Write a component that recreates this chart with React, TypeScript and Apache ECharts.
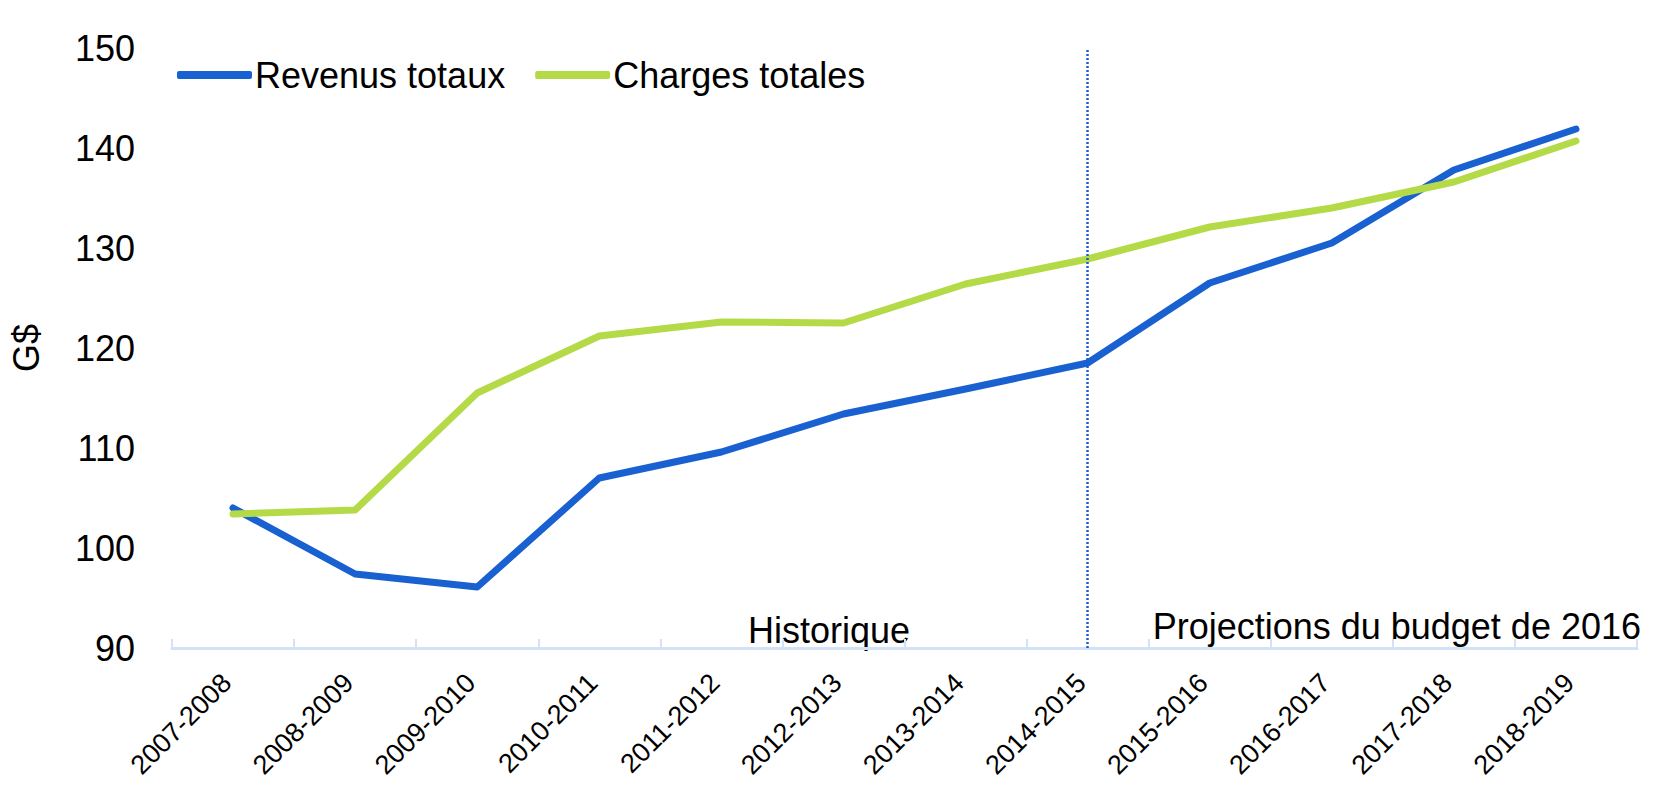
import React, { useEffect, useRef } from "react";
import * as echarts from "echarts";

const categories = [
  "2007-2008", "2008-2009", "2009-2010", "2010-2011", "2011-2012", "2012-2013",
  "2013-2014", "2014-2015", "2015-2016", "2016-2017", "2017-2018", "2018-2019",
];
const revenus = [104.0, 97.4, 96.1, 107.0, 109.6, 113.4, 115.9, 118.5, 126.5, 130.5, 137.8, 141.9];
const charges = [103.4, 103.8, 115.5, 121.2, 122.6, 122.5, 126.4, 128.9, 132.1, 134.0, 136.6, 140.7];
const seriesNames = ["Revenus totaux", "Charges totales"];
const dividerCategory = "2014-2015";
const periodLabels = ["Historique", "Projections du budget de 2016"];

const BLUE = "#1961d0";
const GREEN = "#b5da48";
const AXIS = "#d3e2f7";
const FONT = "'Liberation Sans', Arial, Helvetica, sans-serif";

export default function App() {
  const ref = useRef<HTMLDivElement>(null);
  useEffect(() => {
    document.body.style.margin = "0";
    const chart = echarts.init(ref.current!, null, { renderer: "svg" });
    chart.setOption({
      animation: false,
      textStyle: { fontFamily: FONT },
      grid: { left: 167, right: 24, top: 48, bottom: 140, containLabel: false },
      legend: {
        left: 172,
        top: 52,
        itemWidth: 75,
        itemHeight: 8,
        itemGap: 30,
        icon: "roundRect",
        textStyle: { fontSize: 36, color: "#000", fontFamily: FONT, padding: [0, 0, 0, -2] },
        data: seriesNames,
      },
      xAxis: {
        type: "category",
        data: categories,
        boundaryGap: true,
        axisLine: { lineStyle: { color: AXIS, width: 3 } },
        axisTick: { show: true, inside: true, length: 9, lineStyle: { color: AXIS, width: 2 } },
        axisLabel: {
          rotate: 45,
          fontSize: 27,
          color: "#000",
          margin: 24,
          interval: 0,
          padding: [0, 9, 0, 0],
          fontFamily: FONT,
        },
        splitLine: { show: false },
      },
      yAxis: {
        type: "value",
        min: 90,
        max: 150,
        interval: 10,
        name: "G$",
        nameLocation: "middle",
        nameGap: 128,
        nameTextStyle: { fontSize: 36, color: "#000", fontFamily: FONT },
        axisLine: { show: false },
        axisTick: { show: false },
        splitLine: { show: false },
        axisLabel: { fontSize: 36, color: "#000", margin: 37, fontFamily: FONT },
      },
      series: [
        {
          name: seriesNames[0],
          type: "line",
          data: revenus,
          symbol: "none",
          color: BLUE,
          lineStyle: { color: BLUE, width: 7, cap: "round", join: "round" },
          markLine: {
            silent: true,
            symbol: "none",
            label: { show: false },
            lineStyle: { color: BLUE, type: [2, 2], width: 2.5 },
            data: [{ xAxis: dividerCategory }],
          },
        },
        {
          name: seriesNames[1],
          type: "line",
          data: charges,
          symbol: "none",
          color: GREEN,
          lineStyle: { color: GREEN, width: 7, cap: "round", join: "round" },
        },
      ],
      graphic: [
        {
          type: "text",
          x: 829,
          y: 630,
          style: {
            text: periodLabels[0],
            fontSize: 36,
            fontFamily: FONT,
            fill: "#000",
            align: "center",
            verticalAlign: "middle",
          },
        },
        {
          type: "text",
          x: 1641,
          y: 626,
          style: {
            text: periodLabels[1],
            fontSize: 36,
            fontFamily: FONT,
            fill: "#000",
            align: "right",
            verticalAlign: "middle",
          },
        },
      ],
    });
    return () => chart.dispose();
  }, []);
  return <div ref={ref} style={{ width: 1661, height: 788 }} />;
}
